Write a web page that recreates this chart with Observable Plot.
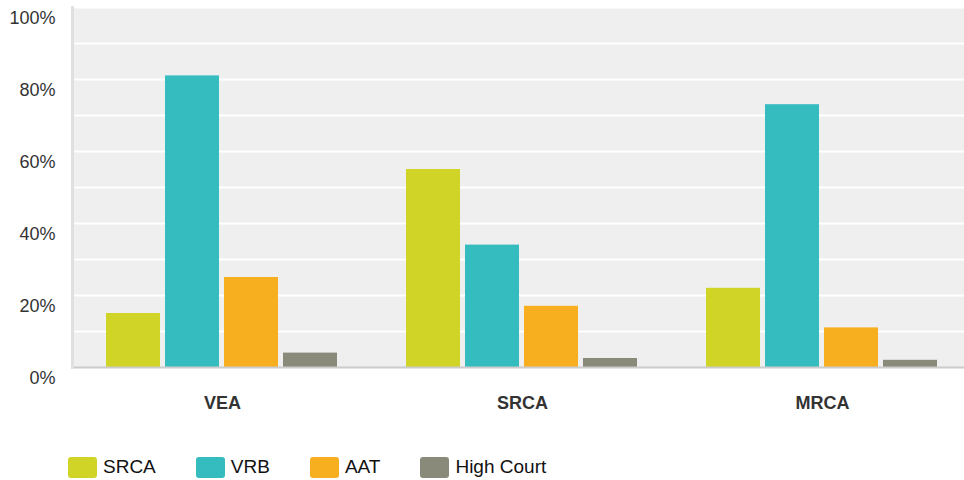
<!DOCTYPE html>
<html><head><meta charset="utf-8">
<script src="https://cdn.jsdelivr.net/npm/d3@7"></script>
<script src="https://cdn.jsdelivr.net/npm/@observablehq/plot@0.6"></script>
<style>
body{margin:0;background:#fff;font-family:"Liberation Sans",Arial,sans-serif;}
#legend{display:flex;align-items:center;padding-left:68px;margin-top:26px;gap:40px;font-size:19px;color:#111;}
#legend .item{display:flex;align-items:center;gap:6px;}
#legend .sw{width:29px;height:21px;border-radius:3px;display:inline-block;}
</style></head>
<body><div id="chart"></div><div id="legend"></div>
<script>
const groups = ["VEA", "SRCA", "MRCA"];
const series = ["SRCA", "VRB", "AAT", "High Court"];
const valSRCA = [15, 55, 22];
const valVRB = [81, 34, 73];
const valAAT = [25, 17, 11];
const valHighCourt = [4, 2.5, 2];
const colors = ["#cfd427", "#34bcbf", "#f7af1f", "#8a8a7a"];
const yTickValues = [0, 20, 40, 60, 80, 100];
const yTickLabels = ["0%", "20%", "40%", "60%", "80%", "100%"];
const gridValues = [10, 20, 30, 40, 50, 60, 70, 80, 90, 100];

const seriesValues = [valSRCA, valVRB, valAAT, valHighCourt];
const data = [];
groups.forEach((g, gi) => series.forEach((s, si) => data.push({group: g, series: s, value: seriesValues[si][gi]})));

const chart = Plot.plot({
  width: 964,
  height: 430,
  marginLeft: 72,
  marginRight: 0,
  marginTop: 7,
  marginBottom: 63,
  style: {fontFamily: '"Liberation Sans", Arial, sans-serif', fontSize: "18px", color: "#333", background: "#fff"},
  fx: {domain: groups, range: [72, 972], paddingInner: 0, paddingOuter: 0, label: null},
  x: {domain: series, paddingInner: 0.0833, paddingOuter: 0.5417, axis: null},
  y: {domain: [0, 100], label: null},
  color: {domain: series, range: colors},
  marks: [
    Plot.frame({fill: "#efefef", stroke: "#efefef", strokeWidth: 1}),
    Plot.ruleY(gridValues, {stroke: "#fff", strokeWidth: 2}),
    Plot.barY(data, {fx: "group", x: "series", y: "value", fill: "series"}),
    Plot.ruleY([0], {stroke: "#cccccc", strokeWidth: 2}),
    Plot.frame({anchor: "left", stroke: "#e0e0e0", strokeWidth: 3, facetAnchor: "left"}),
    Plot.axisY({ticks: yTickValues, tickFormat: (d) => yTickLabels[yTickValues.indexOf(d)], tickSize: 0, tickPadding: 17, dy: 11, fill: "#333", label: null, fontSize: 18}),
    Plot.axisFx({anchor: "bottom", tickSize: 0, tickPadding: 29, label: null, fontWeight: "bold", fill: "#333", fontSize: 18})
  ]
});
document.getElementById("chart").appendChild(chart);

const legend = document.getElementById("legend");
series.forEach((s, i) => {
  const item = document.createElement("div");
  item.className = "item";
  const sw = document.createElement("span");
  sw.className = "sw";
  sw.style.background = colors[i];
  const t = document.createElement("span");
  t.textContent = s;
  item.appendChild(sw); item.appendChild(t);
  legend.appendChild(item);
});
</script>
</body></html>
